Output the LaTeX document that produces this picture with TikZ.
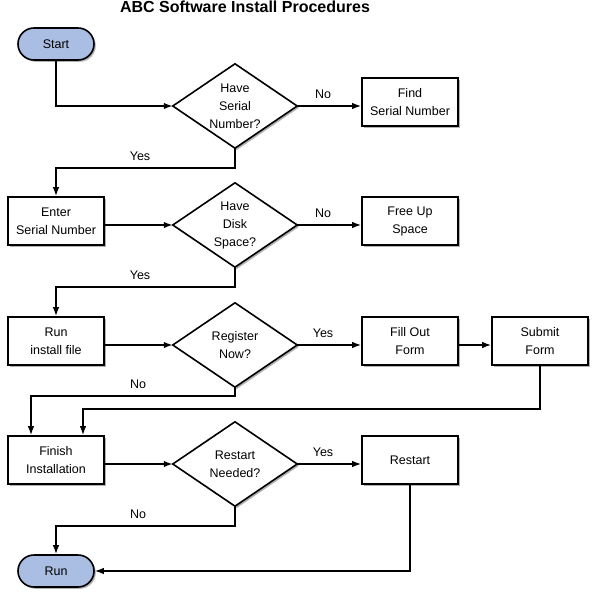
\documentclass[tikz,border=0pt]{standalone}
\usepackage{fontspec}
\setmainfont{Liberation Sans}
\usetikzlibrary{arrows.meta,shadows,calc}
\pgfdeclarelayer{background}
\pgfsetlayers{background,main}
\definecolor{pillblue}{RGB}{170,189,226}
\newcommand\drawdecision[1]{\draw[decshape] (#1.north) -- (#1.east) -- (#1.south) -- (#1.west) -- cycle;}
\begin{document}
\begin{tikzpicture}[x=1pt,y=-1pt,
  every node/.style={font=\fontsize{12.5}{18}\selectfont, align=center},
  shad/.style={drop shadow={shadow xshift=1.8pt, shadow yshift=-1.8pt, opacity=0.3, fill=black}},
  box/.style={draw, line width=1.6pt, fill=white, minimum width=96pt, minimum height=48pt, inner sep=0pt, shad},
  pill/.style={draw, line width=1.6pt, fill=pillblue, rounded corners=16pt, minimum width=76pt, minimum height=32pt, inner sep=0pt, shad},
  decarea/.style={minimum width=124pt, minimum height=84pt, inner sep=0pt},
  decshape/.style={draw, line width=1.6pt, fill=white, line join=miter, shad},
  conn/.style={line width=1.6pt, -{Latex[length=9pt,width=6.5pt]}},
  lab/.style={font=\fontsize{12.5}{14}\selectfont, inner sep=0pt}
]
\useasboundingbox (0,0) rectangle (600,597);

\node[font=\bfseries\fontsize{16}{18}\selectfont] (title) at (245,7) {ABC Software Install Procedures};

% nodes
\node[pill] (start) at (56,44) {Start};
\node[decarea] (d1) at (235,106) {Have\\Serial\\Number?};
\node[box] (find) at (410,102) {Find\\Serial Number};

\node[box] (enter) at (56,221) {Enter\\Serial Number};
\node[decarea] (d2) at (235,225) {Have\\Disk\\Space?};
\node[box] (free) at (410,221) {Free Up\\Space};

\node[box] (runf) at (56,341) {Run\\install file};
\node[decarea] (d3) at (235,345) {Register\\Now?};
\node[box] (fill) at (410,341) {Fill Out\\Form};
\node[box] (submit) at (540,341) {Submit\\Form};

\node[box] (finish) at (56,460) {Finish\\Installation};
\node[decarea] (d4) at (235,464) {Restart\\Needed?};
\node[box] (restart) at (410,460) {Restart};

\node[pill] (run) at (56,571) {Run};

\begin{pgfonlayer}{background}
\drawdecision{d1}
\drawdecision{d2}
\drawdecision{d3}
\drawdecision{d4}
\end{pgfonlayer}

\coordinate (j1) at (83,409);
\coordinate (j2) at (31,396);

% connectors
\draw[conn] (start.south) |- (d1.west);
\draw[conn] (d1.east) -- (find.west |- d1.east);
\draw[conn] (d1.south) -- ++(0,20) -| (enter.north);
\draw[conn] (enter.east |- d2.west) -- (d2.west);
\draw[conn] (d2.east) -- (free.west |- d2.east);
\draw[conn] (d2.south) -- ++(0,20) -| (runf.north);
\draw[conn] (runf.east |- d3.west) -- (d3.west);
\draw[conn] (d3.east) -- (fill.west |- d3.east);
\draw[conn] (fill.east |- d3.east) -- (submit.west |- d3.east);
\draw[conn] (submit.south) |- (j1) -- (finish.north -| j1);
\draw[conn] (d3.south) |- (j2) -- (finish.north -| j2);
\draw[conn] (finish.east |- d4.west) -- (d4.west);
\draw[conn] (d4.east) -- (restart.west |- d4.east);
\draw[conn] (d4.south) -- ++(0,20) -| (run.north);
\draw[conn] (restart.south) |- (run.east);

% labels
\node[lab] (l1) at (323,94) {No};
\node[lab] (l2) at (140,156) {Yes};
\node[lab] (l3) at (323,213) {No};
\node[lab] (l4) at (140,275) {Yes};
\node[lab] (l5) at (323,333) {Yes};
\node[lab] (l6) at (138,384) {No};
\node[lab] (l7) at (323,452) {Yes};
\node[lab] (l8) at (138,514) {No};
\end{tikzpicture}
\end{document}
